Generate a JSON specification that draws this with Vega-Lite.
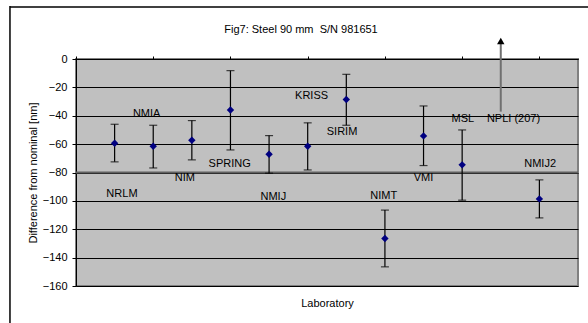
{
  "$schema": "https://vega.github.io/schema/vega-lite/v6.json",
  "width": 502,
  "height": 227,
  "autosize": {"type": "none"},
  "padding": {"left": 76, "top": 59, "right": 10, "bottom": 37},
  "background": "white",
  "config": {
    "font": "Liberation Sans",
    "view": {"fill": "#C0C0C0", "stroke": "#808080", "strokeWidth": 2},
    "axis": {"labelFont": "Liberation Sans", "titleFont": "Liberation Sans"},
    "axisY": {"tickCount": 9, "labelOverlap": false},
    "axisX": {"tickCount": 13}
  },
  "title": {
    "text": "Fig7: Steel 90 mm\u00a0 S/N 981651",
    "fontSize": 11,
    "fontWeight": "normal",
    "color": "black",
    "anchor": "middle",
    "dx": -26,
    "dy": 32,
    "offset": 2
  },
  "datasets": {
    "pts": [
      {"lab": "NRLM", "x": 1, "y": -59.4, "lo": -72.5, "hi": -46.0},
      {"lab": "NMIA", "x": 2, "y": -61.5, "lo": -76.8, "hi": -46.7},
      {"lab": "NIM", "x": 3, "y": -57.3, "lo": -71.1, "hi": -43.4},
      {"lab": "SPRING", "x": 4, "y": -35.9, "lo": -64.1, "hi": -8.2},
      {"lab": "NMIJ", "x": 5, "y": -67.1, "lo": -80.5, "hi": -54.0},
      {"lab": "KRISS", "x": 6, "y": -61.5, "lo": -78.2, "hi": -45.0},
      {"lab": "SIRIM", "x": 7, "y": -28.6, "lo": -46.7, "hi": -10.8},
      {"lab": "NIMT", "x": 8, "y": -126.5, "lo": -146.5, "hi": -106.5},
      {"lab": "VMI", "x": 9, "y": -54.2, "lo": -75.1, "hi": -33.1},
      {"lab": "MSL", "x": 10, "y": -74.6, "lo": -99.5, "hi": -50.0},
      {"lab": "NMIJ2", "x": 12, "y": -98.6, "lo": -112.0, "hi": -85.2}
    ],
    "labels": [
      {"text": "NRLM", "lx": 1.19, "ly": -95.3},
      {"text": "NMIA", "lx": 1.83, "ly": -39.0},
      {"text": "NIM", "lx": 2.82, "ly": -84.0},
      {"text": "SPRING", "lx": 3.98, "ly": -74.0},
      {"text": "NMIJ", "lx": 5.11, "ly": -97.0},
      {"text": "KRISS", "lx": 6.1, "ly": -26.0},
      {"text": "SIRIM", "lx": 6.89, "ly": -51.2},
      {"text": "NIMT", "lx": 7.97, "ly": -96.5},
      {"text": "VMI", "lx": 9.0, "ly": -83.8},
      {"text": "MSL", "lx": 10.02, "ly": -42.3},
      {"text": "NPLI (207)", "lx": 11.33, "ly": -42.3},
      {"text": "NMIJ2", "lx": 12.02, "ly": -74.0}
    ],
    "npli": [
      {"lab": "NPLI", "x": 11, "lo": -37.1, "top": 10.6, "head": 12.7}
    ],
    "one": [{}]
  },
  "layer": [
    {
      "data": {"name": "one"},
      "mark": {"type": "rule", "color": "#606060", "strokeWidth": 2},
      "encoding": {
        "y": {"datum": -80, "type": "quantitative"}
      }
    },
    {
      "data": {"name": "pts"},
      "mark": {"type": "rule", "color": "black", "strokeWidth": 1.2},
      "encoding": {
        "x": {
          "field": "x", "type": "quantitative",
          "scale": {"domain": [0, 13], "nice": false, "zero": false},
          "axis": {
            "orient": "top",
            "values": [0, 1, 2, 3, 4, 5, 6, 7, 8, 9, 10, 11, 12, 13],
            "labels": false, "grid": false,
            "domainColor": "black", "domainWidth": 1,
            "tickColor": "black", "tickSize": 3,
            "title": "Laboratory",
            "titleFontSize": 11, "titleFontWeight": "normal", "titleColor": "black",
            "titleX": 251, "titleY": 244, "titleAlign": "center", "titleBaseline": "middle"
          }
        },
        "y": {
          "field": "lo", "type": "quantitative",
          "scale": {"domain": [-160, 0], "nice": false, "zero": false},
          "axis": {
            "values": [0, -20, -40, -60, -80, -100, -120, -140, -160],
            "grid": true, "gridColor": "black", "gridWidth": 1, "gridOpacity": 1,
            "domainColor": "black", "domainWidth": 1,
            "tickColor": "black", "tickSize": 4,
            "labelColor": "black", "labelFontSize": 11, "labelPadding": 5,
            "title": "Difference from nominal [nm]",
            "titleFontSize": 11, "titleFontWeight": "normal", "titleColor": "black",
            "titleAngle": -90, "titleX": -43, "titleY": 113.5,
            "titleAlign": "center", "titleBaseline": "middle"
          }
        },
        "y2": {"field": "hi"}
      }
    },
    {
      "data": {"name": "one"},
      "mark": {"type": "rule", "color": "#404040", "strokeWidth": 2, "clip": false},
      "encoding": {
        "x": {"datum": -1.71, "type": "quantitative"},
        "x2": {"datum": 13.3},
        "y": {"datum": 36.6, "type": "quantitative"}
      }
    },
    {
      "data": {"name": "one"},
      "mark": {"type": "rule", "color": "black", "strokeWidth": 1.5, "clip": false},
      "encoding": {
        "x": {"datum": -1.71, "type": "quantitative"},
        "y": {"datum": 37.3, "type": "quantitative"},
        "y2": {"datum": -186}
      }
    },
    {
      "data": {"name": "pts"},
      "mark": {"type": "tick", "orient": "horizontal", "size": 8, "thickness": 1.2, "color": "black"},
      "encoding": {
        "x": {"field": "x", "type": "quantitative"},
        "y": {"field": "lo", "type": "quantitative"}
      }
    },
    {
      "data": {"name": "pts"},
      "mark": {"type": "tick", "orient": "horizontal", "size": 8, "thickness": 1.2, "color": "black"},
      "encoding": {
        "x": {"field": "x", "type": "quantitative"},
        "y": {"field": "hi", "type": "quantitative"}
      }
    },
    {
      "data": {"name": "pts"},
      "mark": {"type": "point", "shape": "diamond", "filled": true, "size": 55, "color": "#000080", "opacity": 1},
      "encoding": {
        "x": {"field": "x", "type": "quantitative"},
        "y": {"field": "y", "type": "quantitative"}
      }
    },
    {
      "data": {"name": "npli"},
      "mark": {"type": "rule", "color": "#707070", "strokeWidth": 2, "clip": false},
      "encoding": {
        "x": {"field": "x", "type": "quantitative"},
        "y": {"field": "lo", "type": "quantitative"},
        "y2": {"field": "top"}
      }
    },
    {
      "data": {"name": "npli"},
      "mark": {"type": "point", "shape": "triangle-up", "filled": true, "size": 55, "color": "black", "opacity": 1, "clip": false},
      "encoding": {
        "x": {"field": "x", "type": "quantitative"},
        "y": {"field": "head", "type": "quantitative"}
      }
    },
    {
      "data": {"name": "labels"},
      "mark": {"type": "text", "fontSize": 11, "color": "black", "align": "center", "baseline": "middle"},
      "encoding": {
        "x": {"field": "lx", "type": "quantitative"},
        "y": {"field": "ly", "type": "quantitative"},
        "text": {"field": "text"}
      }
    }
  ]
}
